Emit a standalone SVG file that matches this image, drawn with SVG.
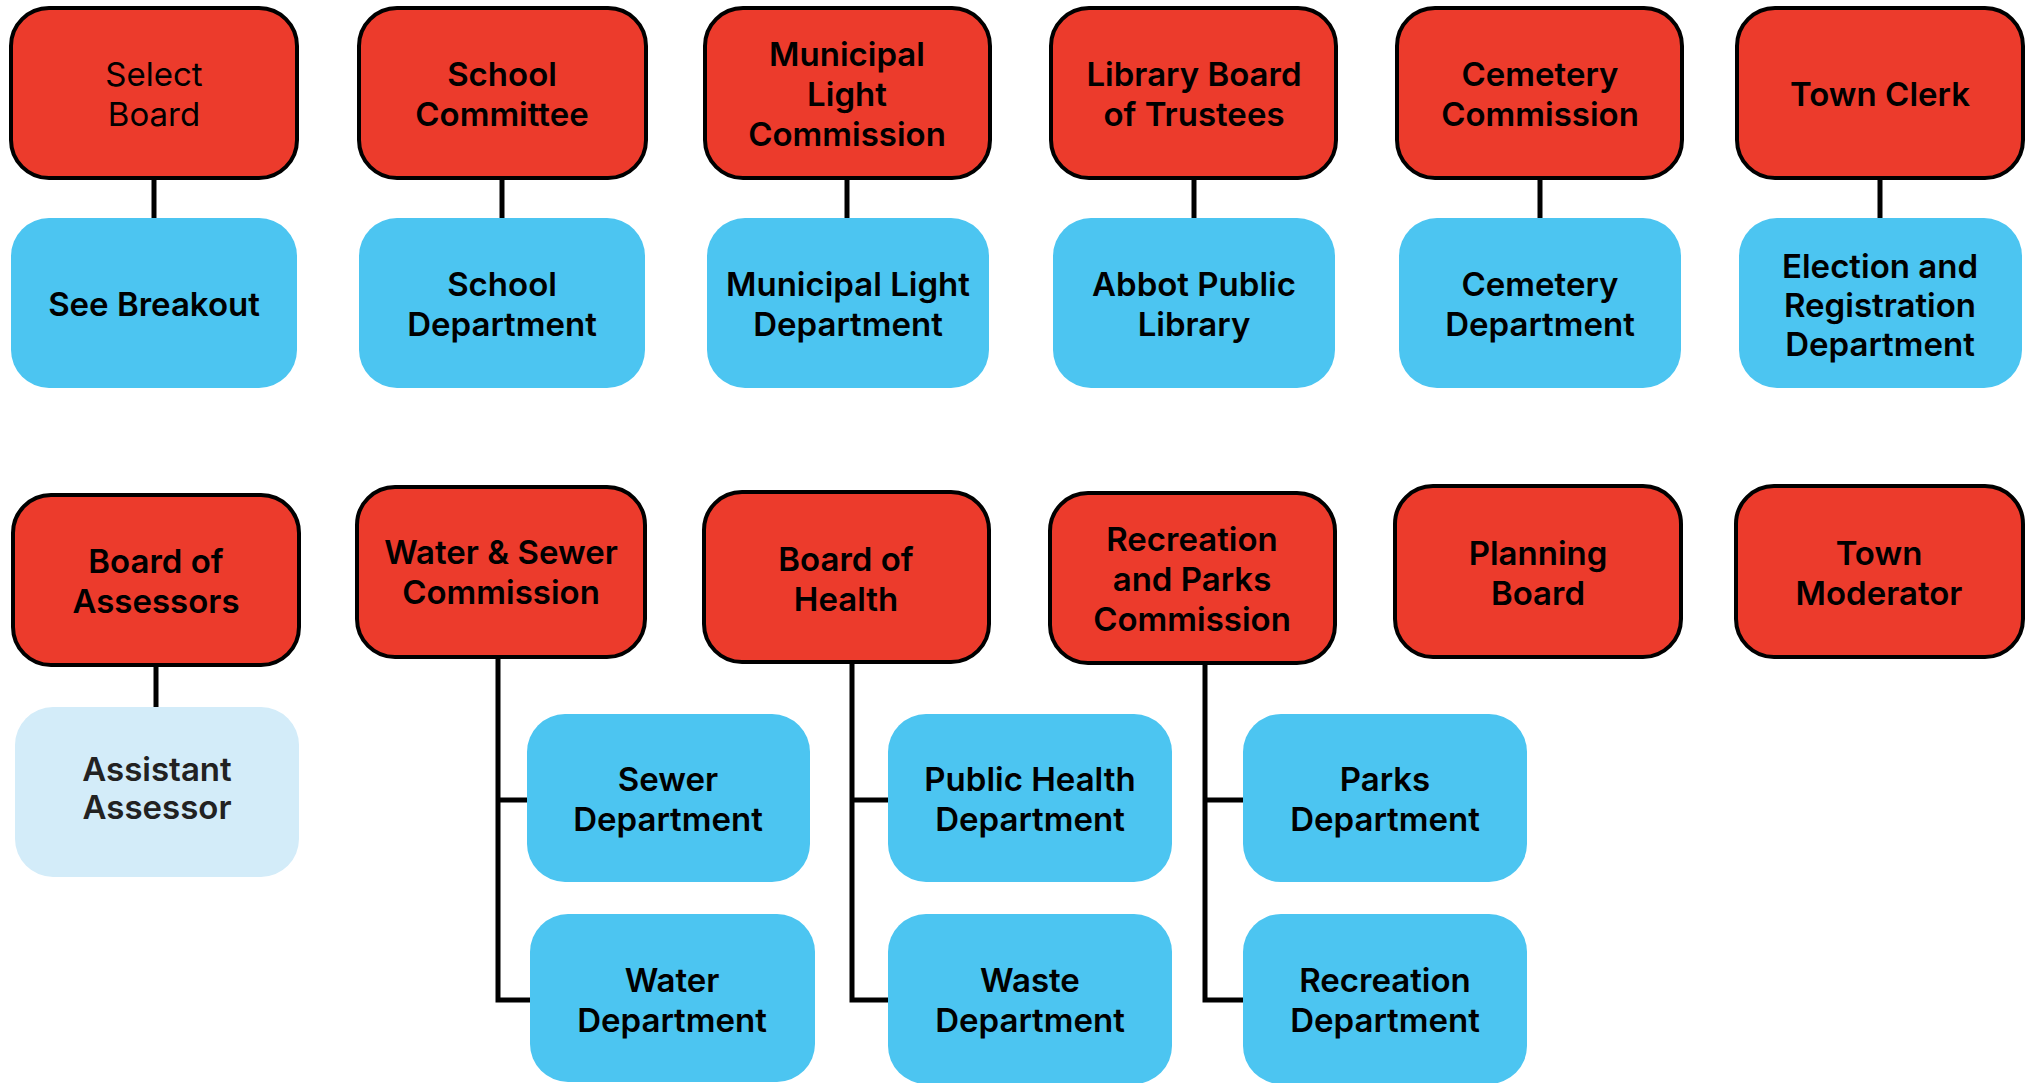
<svg xmlns="http://www.w3.org/2000/svg" width="2028" height="1083" viewBox="0 0 2028 1083">
<style>
.board{fill:#EC3B2C;stroke:#000;stroke-width:4}
.dept{fill:#4CC5F1}
.asst{fill:#D3ECF9}
.lbl{font-family:Inter,"Liberation Sans",sans-serif;font-size:33px;font-weight:600;fill:#000;text-anchor:middle}
.light{font-weight:400}
.gray{fill:#222}
.conn{stroke:#000;stroke-width:5;fill:none}
</style>
<rect width="2028" height="1083" fill="#fff"/>
<g id="connectors">
<line class="conn" x1="154" y1="178" x2="154" y2="219"/>
<line class="conn" x1="502" y1="178" x2="502" y2="219"/>
<line class="conn" x1="847" y1="178" x2="847" y2="219"/>
<line class="conn" x1="1194" y1="178" x2="1194" y2="219"/>
<line class="conn" x1="1540" y1="178" x2="1540" y2="219"/>
<line class="conn" x1="1880" y1="178" x2="1880" y2="219"/>
<line class="conn" x1="156" y1="665" x2="156" y2="708"/>
<path class="conn" d="M498 657 V1000 H531 M498 800 H528"/>
<path class="conn" d="M852 662 V1000 H889 M852 800 H889"/>
<path class="conn" d="M1205 663 V1000 H1244 M1205 800 H1244"/>
</g>
<g id="select-board"><rect class="board" x="11" y="8" width="286" height="170" rx="38"/><text class="lbl light" x="154" y="86">Select</text><text class="lbl light" x="154" y="126">Board</text></g>
<g id="see-breakout"><rect class="dept" x="11" y="218" width="286" height="170" rx="38"/><text class="lbl" x="154" y="316">See Breakout</text></g>
<g id="school-committee"><rect class="board" x="359" y="8" width="287" height="170" rx="38"/><text class="lbl" x="502" y="86">School</text><text class="lbl" x="502" y="126">Committee</text></g>
<g id="school-department"><rect class="dept" x="359" y="218" width="286" height="170" rx="38"/><text class="lbl" x="502" y="296">School</text><text class="lbl" x="502" y="336">Department</text></g>
<g id="municipal-light-commission"><rect class="board" x="705" y="8" width="285" height="170" rx="38"/><text class="lbl" x="847" y="66">Municipal</text><text class="lbl" x="847" y="106">Light</text><text class="lbl" x="847" y="146">Commission</text></g>
<g id="municipal-light-department"><rect class="dept" x="707" y="218" width="282" height="170" rx="38"/><text class="lbl" x="848" y="296">Municipal Light</text><text class="lbl" x="848" y="336">Department</text></g>
<g id="library-board"><rect class="board" x="1051" y="8" width="285" height="170" rx="38"/><text class="lbl" x="1194" y="86">Library Board</text><text class="lbl" x="1194" y="126">of Trustees</text></g>
<g id="abbot-public-library"><rect class="dept" x="1053" y="218" width="282" height="170" rx="38"/><text class="lbl" x="1194" y="296">Abbot Public</text><text class="lbl" x="1194" y="336">Library</text></g>
<g id="cemetery-commission"><rect class="board" x="1397" y="8" width="285" height="170" rx="38"/><text class="lbl" x="1540" y="86">Cemetery</text><text class="lbl" x="1540" y="126">Commission</text></g>
<g id="cemetery-department"><rect class="dept" x="1399" y="218" width="282" height="170" rx="38"/><text class="lbl" x="1540" y="296">Cemetery</text><text class="lbl" x="1540" y="336">Department</text></g>
<g id="town-clerk"><rect class="board" x="1737" y="8" width="286" height="170" rx="38"/><text class="lbl" x="1880" y="106">Town Clerk</text></g>
<g id="election-registration"><rect class="dept" x="1739" y="218" width="283" height="170" rx="38"/><text class="lbl" x="1880" y="278">Election and</text><text class="lbl" x="1880" y="317">Registration</text><text class="lbl" x="1880" y="356">Department</text></g>
<g id="board-of-assessors"><rect class="board" x="13" y="495" width="286" height="170" rx="38"/><text class="lbl" x="156" y="573">Board of</text><text class="lbl" x="156" y="613">Assessors</text></g>
<g id="assistant-assessor"><rect class="asst" x="15" y="707" width="284" height="170" rx="38"/><text class="lbl gray" x="157" y="781">Assistant</text><text class="lbl gray" x="157" y="819">Assessor</text></g>
<g id="water-sewer-commission"><rect class="board" x="357" y="487" width="288" height="170" rx="38"/><text class="lbl" x="501" y="564">Water &amp; Sewer</text><text class="lbl" x="501" y="604">Commission</text></g>
<g id="sewer-department"><rect class="dept" x="527" y="714" width="283" height="168" rx="38"/><text class="lbl" x="668" y="791">Sewer</text><text class="lbl" x="668" y="831">Department</text></g>
<g id="water-department"><rect class="dept" x="530" y="914" width="285" height="168" rx="38"/><text class="lbl" x="672" y="992">Water</text><text class="lbl" x="672" y="1032">Department</text></g>
<g id="board-of-health"><rect class="board" x="704" y="492" width="285" height="170" rx="38"/><text class="lbl" x="846" y="571">Board of</text><text class="lbl" x="846" y="611">Health</text></g>
<g id="public-health-department"><rect class="dept" x="888" y="714" width="284" height="168" rx="38"/><text class="lbl" x="1030" y="791">Public Health</text><text class="lbl" x="1030" y="831">Department</text></g>
<g id="waste-department"><rect class="dept" x="888" y="914" width="284" height="170" rx="38"/><text class="lbl" x="1030" y="992">Waste</text><text class="lbl" x="1030" y="1032">Department</text></g>
<g id="recreation-parks-commission"><rect class="board" x="1050" y="493" width="285" height="170" rx="38"/><text class="lbl" x="1192" y="551">Recreation</text><text class="lbl" x="1192" y="591">and Parks</text><text class="lbl" x="1192" y="631">Commission</text></g>
<g id="parks-department"><rect class="dept" x="1243" y="714" width="284" height="168" rx="38"/><text class="lbl" x="1385" y="791">Parks</text><text class="lbl" x="1385" y="831">Department</text></g>
<g id="recreation-department"><rect class="dept" x="1243" y="914" width="284" height="170" rx="38"/><text class="lbl" x="1385" y="992">Recreation</text><text class="lbl" x="1385" y="1032">Department</text></g>
<g id="planning-board"><rect class="board" x="1395" y="486" width="286" height="171" rx="38"/><text class="lbl" x="1538" y="565">Planning</text><text class="lbl" x="1538" y="605">Board</text></g>
<g id="town-moderator"><rect class="board" x="1736" y="486" width="287" height="171" rx="38"/><text class="lbl" x="1879" y="565">Town</text><text class="lbl" x="1879" y="605">Moderator</text></g>
</svg>
